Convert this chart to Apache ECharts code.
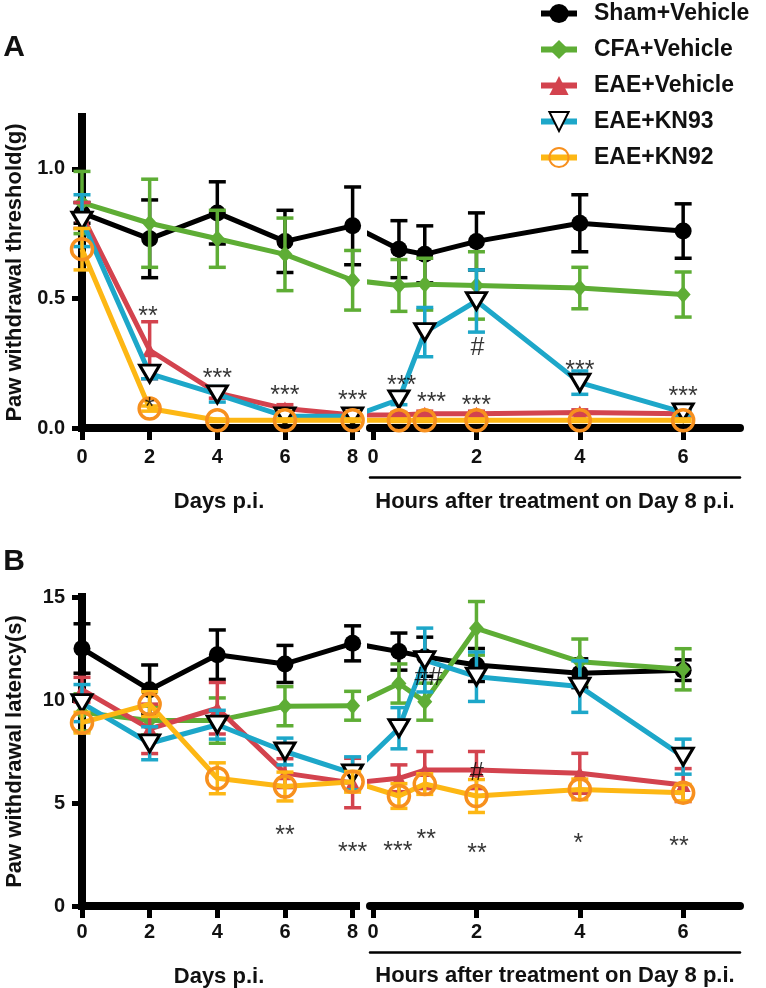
<!DOCTYPE html>
<html><head><meta charset="utf-8">
<script src="https://cdn.jsdelivr.net/npm/echarts@6/dist/echarts.min.js"></script>
<style>html,body{margin:0;padding:0;background:#fff}#c{width:766px;height:988px}</style>
</head><body><div id="c"></div>
<script>
// ---------- data ----------
const groups = ['Sham+Vehicle', 'CFA+Vehicle', 'EAE+Vehicle', 'EAE+KN93', 'EAE+KN92'];
const dayX = [0, 2, 4, 6, 8];
const hourX = [0.5, 1, 2, 4, 6];
const dayTicks = [0, 2, 4, 6, 8];
const hourTicks = [0, 2, 4, 6];
const yTicksA = [0, 0.5, 1.0];
const yTicksB = [0, 5, 10, 15];

// Panel A: paw withdrawal threshold (g)
const shamA_day = [0.83, 0.73, 0.83, 0.72, 0.78];
const shamA_daySem = [0.04, 0.15, 0.12, 0.12, 0.15];
const shamA_hr = [0.69, 0.67, 0.72, 0.79, 0.76];
const shamA_hrSem = [0.11, 0.11, 0.11, 0.11, 0.105];
const cfaA_day = [0.87, 0.79, 0.73, 0.67, 0.57];
const cfaA_daySem = [0.12, 0.17, 0.11, 0.14, 0.115];
const cfaA_hr = [0.55, 0.555, 0.55, 0.54, 0.515];
const cfaA_hrSem = [0.1, 0.1, 0.13, 0.08, 0.087];
const eaeA_day = [0.82, 0.30, 0.135, 0.075, 0.05];
const eaeA_daySem = [0.05, 0.11, 0.02, 0.015, 0.01];
const eaeA_hr = [0.05, 0.055, 0.055, 0.06, 0.055];
const eaeA_hrSem = [0.01, 0.01, 0.01, 0.01, 0.01];
const kn93A_day = [0.80, 0.21, 0.13, 0.045, 0.045];
const kn93A_daySem = [0.1, 0.02, 0.03, 0.01, 0.01];
const kn93A_hr = [0.11, 0.37, 0.49, 0.175, 0.06];
const kn93A_hrSem = [0.02, 0.095, 0.12, 0.045, 0.01];
const kn92A_day = [0.69, 0.075, 0.03, 0.03, 0.03];
const kn92A_daySem = [0.08, 0.01, 0.005, 0.005, 0.005];
const kn92A_hr = [0.03, 0.03, 0.03, 0.03, 0.03];
const kn92A_hrSem = [0.005, 0.005, 0.005, 0.005, 0.005];

// Panel B: paw withdrawal latency (s)
const shamB_day = [12.5, 10.5, 12.2, 11.75, 12.75];
const shamB_daySem = [1.2, 1.2, 1.2, 0.9, 0.85];
const shamB_hr = [12.35, 12.1, 11.7, 11.3, 11.45];
const shamB_hrSem = [0.9, 0.95, 0.8, 0.7, 0.5];
const cfaB_day = [9.4, 9.0, 9.0, 9.7, 9.72];
const cfaB_daySem = [0.9, 0.7, 1.1, 0.95, 0.7];
const cfaB_hr = [10.8, 9.92, 13.48, 11.86, 11.49];
const cfaB_hrSem = [0.95, 0.9, 1.3, 1.1, 1.0];
const eaeB_day = [10.5, 8.6, 9.6, 6.45, 5.97];
const eaeB_daySem = [0.6, 1.2, 1.25, 0.7, 1.2];
const eaeB_hr = [6.2, 6.6, 6.6, 6.44, 5.87];
const eaeB_hrSem = [0.65, 0.9, 0.9, 0.97, 0.8];
const kn93B_day = [9.85, 7.9, 8.8, 7.5, 6.44];
const kn93B_daySem = [0.9, 0.8, 0.7, 0.65, 0.8];
const kn93B_hr = [8.63, 11.94, 11.13, 10.65, 7.25];
const kn93B_hrSem = [1.0, 1.55, 1.2, 1.25, 0.85];
const kn92B_day = [8.9, 9.8, 6.2, 5.8, 6.03];
const kn92B_daySem = [0.5, 0.6, 0.75, 0.7, 0.5];
const kn92B_hr = [5.34, 5.92, 5.34, 5.66, 5.5];
const kn92B_hrSem = [0.6, 0.5, 0.8, 0.5, 0.4];

// significance marks: [x, y, text]
const sigA_day = [[1.95, 0.45, '**'], [2, 0.10, '*'], [4, 0.21, '***'], [6, 0.147, '***'], [8, 0.127, '***']];
const sigA_hr = [[0.55, 0.185, '***'], [1.13, 0.12, '***'], [2, 0.108, '***'], [2.02, 0.31, '#'], [4, 0.243, '***'], [6, 0.143, '***']];
const sigB_day = [[6, 3.69, '**'], [8, 2.88, '***']];
const sigB_hr = [[0.48, 2.91, '***'], [1.03, 3.5, '**'], [1.07, 11.07, '##'], [2.01, 2.82, '**'], [2.01, 6.45, '#'], [3.97, 3.3, '*'], [5.92, 3.17, '**']];

// ---------- layout / style ----------
const FONT = '"Liberation Sans", Arial, Helvetica, sans-serif';
const G = { dayL: 82, dayW: 274, hourL: 370, hourW: 370, aTop: 117, aH: 311, bTop: 597, bH: 309 };
const DAY_MAX = 8.1, HOUR_MIN = -0.06, HOUR_MAX = 7.1;
const dayPx = G.dayW / DAY_MAX;
const hourPx = G.hourW / (HOUR_MAX - HOUR_MIN);
// day-8 point expressed on the hour axis, so the line runs on across the break
const LINK_X = ((G.dayL + 8 * dayPx) - (G.hourL - HOUR_MIN * hourPx)) / hourPx;

const LINE_COLORS = ['#000000', '#5EAD35', '#D3434E', '#1DA7C9', '#FDB714'];
const MARKERS = [
  { symbol: 'circle', size: 17, rotate: 0, itemStyle: { color: '#000' } },
  { symbol: 'diamond', size: [15, 17], rotate: 0, itemStyle: { color: '#5EAD35' } },
  { symbol: 'triangle', size: [15, 14], rotate: 0, itemStyle: { color: '#D3434E' } },
  { symbol: 'triangle', size: [20, 17], rotate: 180, itemStyle: { color: '#ffffff', borderColor: '#000', borderWidth: 3 } },
  { symbol: 'circle', size: 21, rotate: 0, itemStyle: { color: 'rgba(255,255,255,0)', borderColor: '#F7901E', borderWidth: 3.5 } }
];

const panelA = {
  day: [shamA_day, cfaA_day, eaeA_day, kn93A_day, kn92A_day],
  daySem: [shamA_daySem, cfaA_daySem, eaeA_daySem, kn93A_daySem, kn92A_daySem],
  hr: [shamA_hr, cfaA_hr, eaeA_hr, kn93A_hr, kn92A_hr],
  hrSem: [shamA_hrSem, cfaA_hrSem, eaeA_hrSem, kn93A_hrSem, kn92A_hrSem]
};
const panelB = {
  day: [shamB_day, cfaB_day, eaeB_day, kn93B_day, kn92B_day],
  daySem: [shamB_daySem, cfaB_daySem, eaeB_daySem, kn93B_daySem, kn92B_daySem],
  hr: [shamB_hr, cfaB_hr, eaeB_hr, kn93B_hr, kn92B_hr],
  hrSem: [shamB_hrSem, cfaB_hrSem, eaeB_hrSem, kn93B_hrSem, kn92B_hrSem]
};

function errSeries(xi, yi, xs, means, sems, color, z) {
  return {
    type: 'custom', name: 'sem', xAxisIndex: xi, yAxisIndex: yi, z: z, silent: true, clip: false,
    data: xs.map((x, i) => [x, means[i] - sems[i], means[i] + sems[i]]),
    encode: { x: 0, y: [1, 2] },
    renderItem: function (params, api) {
      const x = api.value(0);
      const lo = api.coord([x, api.value(1)]);
      const hi = api.coord([x, api.value(2)]);
      const cw = 8.5;
      const st = { stroke: color, lineWidth: 3.5, fill: null };
      return {
        type: 'group', children: [
          { type: 'line', shape: { x1: lo[0], y1: lo[1], x2: hi[0], y2: hi[1] }, style: st },
          { type: 'line', shape: { x1: hi[0] - cw, y1: hi[1], x2: hi[0] + cw, y2: hi[1] }, style: st },
          { type: 'line', shape: { x1: lo[0] - cw, y1: lo[1], x2: lo[0] + cw, y2: lo[1] }, style: st }
        ]
      };
    }
  };
}

function lineSeries(g, xi, yi, data, z) {
  const m = MARKERS[g];
  return {
    type: 'line', name: groups[g], xAxisIndex: xi, yAxisIndex: yi, z: z,
    data: data, symbol: m.symbol, symbolSize: m.size, symbolRotate: m.rotate,
    itemStyle: m.itemStyle, showAllSymbol: true,
    lineStyle: { color: LINE_COLORS[g], width: 5 },
    emphasis: { disabled: true }, clip: true
  };
}

function sigSeries(xi, yi, list) {
  return {
    type: 'scatter', xAxisIndex: xi, yAxisIndex: yi, z: 40, silent: true,
    symbolSize: 1, itemStyle: { color: 'rgba(0,0,0,0)' },
    data: list.map(s => ({ value: [s[0], s[1]], name: s[2], label: { offset: s[2].indexOf('*') >= 0 ? [0, 6] : [0, 0] } })),
    label: { show: true, position: 'inside', formatter: p => p.name, fontSize: 25, color: '#000', fontFamily: FONT }
  };
}

const series = [];
function addPanel(P, xDay, yDay, xHr, yHr, sigDay, sigHr) {
  for (let g = 0; g < groups.length; g++) {
    const z = 10 + 2 * g;
    series.push(errSeries(xDay, yDay, dayX, P.day[g], P.daySem[g], LINE_COLORS[g], z));
    series.push(lineSeries(g, xDay, yDay, dayX.map((x, i) => [x, P.day[g][i]]), z + 1));
    series.push(errSeries(xHr, yHr, hourX, P.hr[g], P.hrSem[g], LINE_COLORS[g], z));
    const hd = [{ value: [LINK_X, P.day[g][dayX.length - 1]], symbol: 'none' }]
      .concat(hourX.map((x, i) => [x, P.hr[g][i]]));
    series.push(lineSeries(g, xHr, yHr, hd, z + 1));
  }
  series.push(sigSeries(xDay, yDay, sigDay));
  series.push(sigSeries(xHr, yHr, sigHr));
}
addPanel(panelA, 0, 0, 1, 1, sigA_day, sigA_hr);
addPanel(panelB, 3, 2, 4, 3, sigB_day, sigB_hr);

const tickLabel = { fontSize: 20, fontWeight: 'bold', color: '#111', fontFamily: FONT };
const nameStyle = { fontSize: 22, fontWeight: 'bold', color: '#111', fontFamily: FONT };

function dayAxis(grid, margin, nameGap) {
  return {
    gridIndex: grid, type: 'value', min: 0, max: DAY_MAX,
    axisLine: { show: true, onZero: false, lineStyle: { color: '#000', width: 8, cap: 'square' } },
    axisTick: { show: true, length: 12, lineStyle: { color: '#000', width: 5 }, customValues: dayTicks },
    axisLabel: Object.assign({ margin: margin, customValues: dayTicks }, tickLabel),
    splitLine: { show: false },
    name: 'Days p.i.', nameLocation: 'middle', nameGap: nameGap, nameTextStyle: nameStyle
  };
}
function hourAxis(grid, margin) {
  return {
    gridIndex: grid, type: 'value', min: HOUR_MIN, max: HOUR_MAX,
    axisLine: { show: true, onZero: false, lineStyle: { color: '#000', width: 8 } },
    axisTick: { show: true, length: 12, lineStyle: { color: '#000', width: 5 }, customValues: hourTicks },
    axisLabel: Object.assign({ margin: margin, customValues: hourTicks }, tickLabel),
    splitLine: { show: false }
  };
}
function hourUnderline(grid, offset, nameGap) {
  return {
    gridIndex: grid, type: 'value', min: HOUR_MIN, max: HOUR_MAX, position: 'bottom', offset: offset,
    axisLine: { show: true, onZero: false, lineStyle: { color: '#000', width: 2.5 } },
    axisTick: { show: false }, axisLabel: { show: false }, splitLine: { show: false },
    name: 'Hours after treatment on Day 8 p.i.', nameLocation: 'middle', nameGap: nameGap, nameTextStyle: nameStyle
  };
}
function valAxis(grid, max, ticks, name, fmt) {
  return {
    gridIndex: grid, type: 'value', min: 0, max: max,
    axisLine: { show: true, onZero: false, lineStyle: { color: '#000', width: 8, cap: 'square' } },
    axisTick: { show: true, length: 10, lineStyle: { color: '#000', width: 5 }, customValues: ticks },
    axisLabel: Object.assign({ margin: 17, customValues: ticks, formatter: fmt }, tickLabel),
    splitLine: { show: false },
    name: name, nameLocation: 'middle', nameGap: 56, nameTextStyle: nameStyle
  };
}
function hiddenY(grid, max) {
  return { gridIndex: grid, type: 'value', min: 0, max: max, show: false, splitLine: { show: false } };
}

const option = {
  animation: false,
  backgroundColor: '#ffffff',
  textStyle: { fontFamily: FONT },
  grid: [
    { left: G.dayL, top: G.aTop, width: G.dayW, height: G.aH, containLabel: false, outerBoundsMode: 'none' },
    { left: G.hourL, top: G.aTop, width: G.hourW, height: G.aH, containLabel: false, outerBoundsMode: 'none' },
    { left: G.dayL, top: G.bTop, width: G.dayW, height: G.bH, containLabel: false, outerBoundsMode: 'none' },
    { left: G.hourL, top: G.bTop, width: G.hourW, height: G.bH, containLabel: false, outerBoundsMode: 'none' }
  ],
  xAxis: [dayAxis(0, 19, 63), hourAxis(1, 19), hourUnderline(1, 49, 14),
          dayAxis(2, 16, 60), hourAxis(3, 16), hourUnderline(3, 46, 13)],
  yAxis: [
    valAxis(0, 1.2, yTicksA, 'Paw withdrawal threshold(g)', v => v.toFixed(1)),
    hiddenY(1, 1.2),
    valAxis(2, 15, yTicksB, 'Paw withdrawal latency(s)', v => String(v)),
    hiddenY(3, 15)
  ],
  legend: {
    orient: 'vertical', left: 533, top: -3, itemWidth: 36, itemHeight: 24, itemGap: 13,
    data: groups, selectedMode: false,
    lineStyle: { width: 6 },
    textStyle: { fontSize: 23, fontWeight: 'bold', color: '#111', fontFamily: FONT, padding: [0, 0, 0, 12] }
  },
  graphic: [
    { type: 'text', x: 14, y: 48, style: { text: 'A', font: 'bold 30px ' + FONT, fill: '#111', textAlign: 'center', textVerticalAlign: 'middle' } },
    { type: 'text', x: 14, y: 562, style: { text: 'B', font: 'bold 30px ' + FONT, fill: '#111', textAlign: 'center', textVerticalAlign: 'middle' } }
  ],
  series: series
};

const chart = echarts.init(document.getElementById('c'), null, { renderer: 'canvas' });
chart.setOption(option);
</script>
</body></html>
